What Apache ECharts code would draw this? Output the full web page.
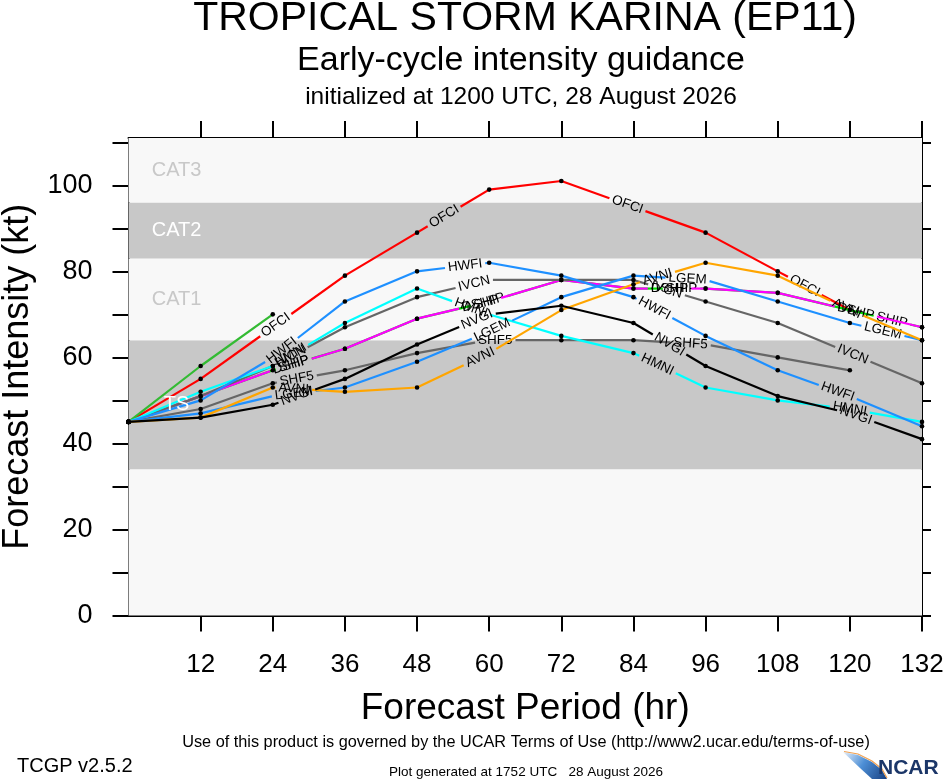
<!DOCTYPE html>
<html>
<head>
<meta charset="utf-8">
<script src="https://cdn.jsdelivr.net/npm/echarts@6/dist/echarts.min.js"></script>
<style>
  html, body { margin: 0; padding: 0; background: #fff; }
  #chart { width: 946px; height: 780px; }
</style>
</head>
<body>
<div id="chart"></div>
<script>
// forecast hours and the intensity guidance (kt)
const hours = [0, 12, 24, 36, 48, 60, 72, 84, 96, 108, 120, 132];
const hourTicks = [12, 24, 36, 48, 60, 72, 84, 96, 108, 120, 132];
const ktTicks = [0, 10, 20, 30, 40, 50, 60, 70, 80, 90, 100, 110];
const ktLabels = [0, 20, 40, 60, 80, 100];

const ofci = [45, 55, 67, 79, 89, 99, 101, 95, 89, 80, 71];
const grn = [45, 58, 70];
const ship = [45, 51, 57, 62, 69, 73, 78, 76, 76, 75, 71, 67];
const dshp = [45, 51, 57, 62, 69, 73, 78, 76, 76, 75, 71, 67];
const ivcn = [45, 51, 58, 67, 74, 78, 78, 78, 73, 68, 61, 54];
const shf5 = [45, 48, 54, 57, 61, 64, 64, 64, 63, 60, 57];
const hmni = [45, 52, 58, 68, 76, 70, 65, 61, 53, 50, 48, 45];
const hwfi = [45, 50, 60, 73, 80, 82, 79, 74, 65, 57, 51, 44];
const lgem = [45, 47, 51, 53, 59, 66, 74, 79, 78, 73, 68, 64];
const avni = [45, 46, 53, 52, 53, 61, 71, 77, 82, 79, 71, 64];
const nvgi = [45, 46, 49, 55, 63, 70, 72, 68, 58, 51, 47, 41];

// intensity categories (kt)
const bandNames = ['', 'TS', 'CAT1', 'CAT2', 'CAT3'];
const bandLow = [0, 34, 64, 83, 96];
const bandHigh = [34, 64, 83, 96, 111];

const SANS = '"Liberation Sans", Arial, Helvetica, sans-serif';
const LABEL_FONT = '13.5px ' + SANS;

// label spots along each line are given in forecast hours
const models = [
  { name: 'OFCI', data: ofci, color: '#ff0000', labelAt: [24.5, 52.5, 83, 112.5] },
  { name: '', data: grn, color: '#33bb33', labelAt: [] },
  { name: 'SHIP', data: ship, color: '#00dd00', labelAt: [27.5, 60, 92, 127] },
  { name: 'DSHP', data: dshp, color: '#ff00ff', labelAt: [27, 58.5, 90, 121] },
  { name: 'IVCN', data: ivcn, color: '#666666', labelAt: [27, 57.5, 89.5, 120.5] },
  { name: 'SHF5', data: shf5, color: '#666666', labelAt: [28, 61, 93.5] },
  { name: 'HMNI', data: hmni, color: '#00ffff', labelAt: [27, 57, 88, 120] },
  { name: 'HWFI', data: hwfi, color: '#1e90ff', labelAt: [25.5, 56, 87.5, 118] },
  { name: 'LGEM', data: lgem, color: '#1e90ff', labelAt: [27.5, 60.5, 93, 125.5] },
  { name: 'AVNI', data: avni, color: '#ffa500', labelAt: [27.5, 58.5, 88, 119.5] },
  { name: 'NVGI', data: nvgi, color: '#000000', labelAt: [28, 58, 90, 121] }
];

const measureCtx = document.createElement('canvas').getContext('2d');
function textWidth(text, font) {
  measureCtx.font = font;
  return measureCtx.measureText(text).width;
}

// one custom series per model: line broken where its own labels sit
function modelSeries(m, k) {
  const labels = m.labelAt.map(h => {
    const i = Math.min(Math.floor(h / 12), m.data.length - 2);
    const t = (h - hours[i]) / 12;
    return { h, v: m.data[i] + (m.data[i + 1] - m.data[i]) * t, seg: i, w: textWidth(m.name, LABEL_FONT) };
  });
  const lastSeg = m.data.length - 2;
  return {
    type: 'custom',
    name: m.name,
    silent: true,
    z: 3 + k,
    data: m.data.slice(0, -1).map((v, i) => [hours[i], v, hours[i + 1], m.data[i + 1]]),
    encode: { x: [0, 2], y: [1, 3] },
    renderItem(params, api) {
      const a = api.coord([api.value(0), api.value(1)]);
      const b = api.coord([api.value(2), api.value(3)]);
      const dx = b[0] - a[0], dy = b[1] - a[1];
      const dd = dx * dx + dy * dy;
      const gaps = labels.map(l => ({ p: api.coord([l.h, l.v]), r: l.w / 2 + 3, l }));
      let pieces = [[0, 1]];
      gaps.forEach(g => {
        const fx = a[0] - g.p[0], fy = a[1] - g.p[1];
        const B = 2 * (dx * fx + dy * fy);
        const C = fx * fx + fy * fy - g.r * g.r;
        const disc = B * B - 4 * dd * C;
        if (disc <= 0) return;
        const s = Math.sqrt(disc);
        const t1 = (-B - s) / (2 * dd), t2 = (-B + s) / (2 * dd);
        pieces = pieces.flatMap(([p0, p1]) => {
          if (t2 <= p0 || t1 >= p1) return [[p0, p1]];
          const out = [];
          if (t1 > p0) out.push([p0, t1]);
          if (t2 < p1) out.push([t2, p1]);
          return out;
        });
      });
      const children = pieces.map(([p0, p1]) => ({
        type: 'line',
        shape: { x1: a[0] + dx * p0, y1: a[1] + dy * p0, x2: a[0] + dx * p1, y2: a[1] + dy * p1 },
        style: { stroke: m.color, lineWidth: 2.2 }
      }));
      const inGap = pt => gaps.some(g => Math.hypot(pt[0] - g.p[0], pt[1] - g.p[1]) < g.r);
      const dots = [a];
      if (params.dataIndex === lastSeg) dots.push(b);
      dots.forEach(pt => {
        if (inGap(pt)) return;
        children.push({ type: 'circle', z2: 5, shape: { cx: pt[0], cy: pt[1], r: 2.3 }, style: { fill: '#000' } });
      });
      gaps.filter(g => g.l.seg === params.dataIndex).forEach(g => {
        children.push({
          type: 'text', z2: 6, x: g.p[0], y: g.p[1], rotation: -Math.atan2(dy, dx),
          style: { text: m.name, font: LABEL_FONT, fill: '#000', align: 'center', verticalAlign: 'middle' }
        });
      });
      return { type: 'group', children };
    }
  };
}

// category shading, and its names drawn on top of the lines
function bandSeries(withText) {
  return {
    type: 'custom',
    silent: true,
    z: withText ? 30 : 1,
    data: bandLow.map((lo, i) => [0, lo, 132, bandHigh[i], i]),
    encode: { x: [0, 2], y: [1, 3] },
    renderItem(params, api) {
      const i = api.value(4);
      const lo = api.value(1), hi = api.value(3);
      const dark = i % 2 === 1;
      if (withText) {
        const mid = api.coord([8, (lo + hi) / 2]);
        return { type: 'text', x: mid[0], y: mid[1],
          style: { text: bandNames[i], font: '20px ' + SANS, fill: dark ? '#ffffff' : '#c8c8c8',
                   align: 'center', verticalAlign: 'middle' } };
      }
      const tl = api.coord([api.value(0), hi]);
      const br = api.coord([api.value(2), lo]);
      return { type: 'rect', shape: { x: tl[0], y: tl[1], width: br[0] - tl[0], height: br[1] - tl[1] },
        style: { fill: dark ? '#c8c8c8' : '#f8f8f8' } };
    }
  };
}

const axisLineStyle = { color: '#000', width: 2 };

const option = {
  animation: false,
  backgroundColor: '#ffffff',
  grid: { left: 128.5, right: 24, top: 138, bottom: 164.5, containLabel: false, outerBoundsMode: 'none' },
  xAxis: [
    {
      type: 'value', position: 'bottom', min: 0, max: 132, interval: 12,
      axisLine: { onZero: false, lineStyle: axisLineStyle },
      axisTick: { customValues: hourTicks, length: 16, lineStyle: axisLineStyle },
      axisLabel: { customValues: hourTicks, color: '#000', fontFamily: SANS, fontSize: 26, margin: 36 },
      splitLine: { show: false },
      name: 'Forecast Period (hr)', nameLocation: 'middle', nameGap: 75,
      nameTextStyle: { color: '#000', fontFamily: SANS, fontSize: 37 }
    },
    {
      type: 'value', position: 'top', min: 0, max: 132, interval: 12,
      axisLine: { onZero: false, lineStyle: axisLineStyle },
      axisTick: { customValues: hourTicks, length: 17, lineStyle: axisLineStyle },
      axisLabel: { show: false },
      splitLine: { show: false }
    }
  ],
  yAxis: [
    {
      type: 'value', position: 'left', min: 0, max: 111, interval: 10,
      axisLine: { onZero: false, lineStyle: axisLineStyle },
      axisTick: { customValues: ktTicks, length: 16, lineStyle: axisLineStyle },
      axisLabel: { customValues: ktLabels, color: '#000', fontFamily: SANS, fontSize: 27, margin: 36 },
      splitLine: { show: false },
      name: 'Forecast Intensity (kt)', nameLocation: 'middle', nameGap: 92.5,
      nameTextStyle: { color: '#000', fontFamily: SANS, fontSize: 36 }
    },
    {
      type: 'value', position: 'right', min: 0, max: 111, interval: 10,
      axisLine: { onZero: false, lineStyle: axisLineStyle },
      axisTick: { customValues: ktTicks, length: 9, lineStyle: axisLineStyle },
      axisLabel: { show: false },
      splitLine: { show: false }
    }
  ],
  graphic: [
    { type: 'text', x: 525, y: 19, style: { text: 'TROPICAL STORM KARINA (EP11)', font: '41px ' + SANS, fill: '#000', align: 'center', verticalAlign: 'middle' } },
    { type: 'text', x: 521, y: 61, style: { text: 'Early-cycle intensity guidance', font: '34px ' + SANS, fill: '#000', align: 'center', verticalAlign: 'middle' } },
    { type: 'text', x: 521, y: 97, style: { text: 'initialized at 1200 UTC, 28 August 2026', font: '24.5px ' + SANS, fill: '#000', align: 'center', verticalAlign: 'middle' } },
    { type: 'text', x: 526, y: 743, style: { text: 'Use of this product is governed by the UCAR Terms of Use (http://www2.ucar.edu/terms-of-use)', font: '16.3px ' + SANS, fill: '#000', align: 'center', verticalAlign: 'middle' } },
    { type: 'text', x: 17, y: 766, style: { text: 'TCGP v2.5.2', font: '20px ' + SANS, fill: '#000', align: 'left', verticalAlign: 'middle' } },
    { type: 'text', x: 526, y: 772, style: { text: 'Plot generated at 1752 UTC   28 August 2026', font: '13.5px ' + SANS, fill: '#000', align: 'center', verticalAlign: 'middle' } },
    // NCAR logo
    { type: 'polygon', shape: { points: [[843, 752], [858, 755], [872, 762], [882, 770], [887, 779], [872, 779], [860, 768]] },
      style: { fill: new echarts.graphic.LinearGradient(0, 0, 1, 1, [
        { offset: 0, color: '#e8f0fa' }, { offset: 0.45, color: '#4d8fd6' }, { offset: 1, color: '#173f80' }]) } },
    { type: 'polyline', shape: { points: [[844, 751.5], [858, 754], [872, 761], [882, 769], [887, 778]] },
      style: { stroke: '#f0a050', lineWidth: 1.2, fill: null } },
    { type: 'text', x: 878, y: 779, style: { text: 'NCAR', font: 'bold 21px ' + SANS, fill: '#1b3668', align: 'left', verticalAlign: 'bottom' } }
  ],
  series: [bandSeries(false)].concat(models.map(modelSeries), [bandSeries(true)])
};

const chart = echarts.init(document.getElementById('chart'));
chart.setOption(option);
</script>
</body>
</html>
